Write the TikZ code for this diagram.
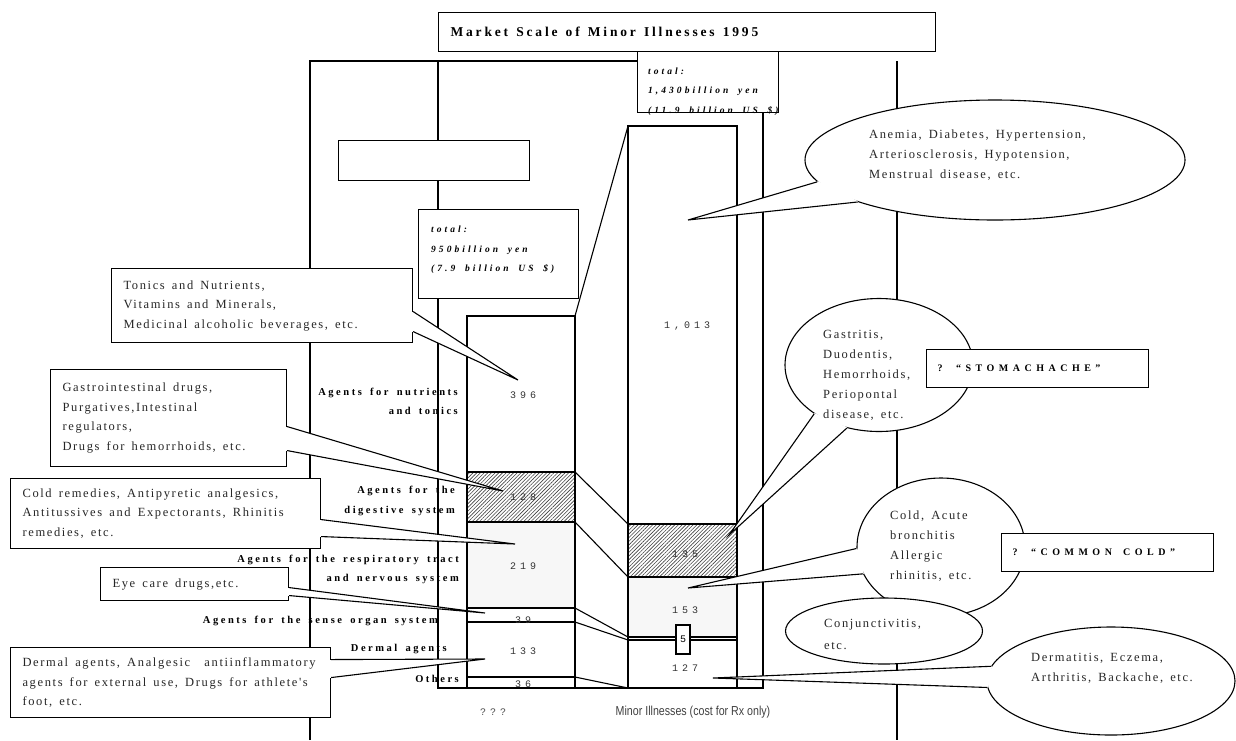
\documentclass[tikz,border=0pt]{standalone}
\usepackage{fontspec}
\setmainfont{Liberation Serif}
\newfontfamily\callfont{Liberation Serif}[LetterSpace=13,WordSpace=1.5]
\newfontfamily\labelfont{Liberation Serif}[LetterSpace=24,WordSpace=1.6]
\newfontfamily\titlefont{Liberation Serif}[LetterSpace=21,WordSpace=1.3]
\newfontfamily\totalfont{Liberation Serif}[LetterSpace=32,WordSpace=1.8]
\newfontfamily\capsfont{Liberation Serif}[LetterSpace=45,WordSpace=1.6]
\newfontfamily\numfont{Liberation Mono}[LetterSpace=40]
\newfontfamily\axisfont{Liberation Sans}[FakeStretch=0.82]
\usepackage{tikz}
\usetikzlibrary{shapes.geometric,patterns.meta,calc}
\tikzstyle{wire} = [draw, line width=1.1pt]
\tikzstyle{frameline} = [draw, line width=1.1pt]
\tikzstyle{plainbox} = [draw, fill=white, line width=1.1pt, rectangle,
  anchor=north west, inner sep=0pt]
\tikzstyle{callbox} = [draw, fill=white, line width=1.1pt, rectangle,
  anchor=north west, align=left, inner xsep=12pt, text=black!85,
  execute at begin node={\spaceskip=0pt\xspaceskip=0pt},
  font={\callfont\fontsize{12.5}{19.5}\selectfont}]
\tikzstyle{titlebox} = [callbox, text=black,
  font={\titlefont\bfseries\fontsize{13.5}{16}\selectfont}]
\tikzstyle{tagbox} = [callbox, inner xsep=11pt, text=black,
  font={\capsfont\bfseries\fontsize{10}{12}\selectfont}]
\tikzstyle{bubble} = [draw, fill=white, ellipse, line width=1.1pt, inner sep=0pt]
\tikzstyle{bubbletext} = [anchor=west, align=left, inner sep=0pt, text=black!85,
  font={\callfont\fontsize{12.5}{20}\selectfont}]
\tikzstyle{agent} = [anchor=east, align=right, inner sep=0pt,
  font={\labelfont\bfseries\fontsize{10.5}{19.5}\selectfont}]
\tikzstyle{total} = [anchor=west, align=left, inner sep=0pt,
  font={\totalfont\bfseries\itshape\fontsize{9.5}{19.5}\selectfont}]
\tikzstyle{value} = [inner sep=0pt, text=black!80,
  font={\numfont\fontsize{10}{12}\selectfont}]
\tikzstyle{axis} = [inner sep=0pt, text=black!75,
  font={\axisfont\fontsize{13}{15}\selectfont}]
\tikzstyle{hatch} = [pattern={Lines[angle=45,distance=2.6pt,line width=0.6pt]},
  pattern color=black!75]
\tikzstyle{soft} = [fill=black!3]
% wedge of a callout: base point, tip, base point
\newcommand{\pointer}[3]{%
  \fill[white] (#1) -- (#2) -- (#3) -- cycle;
  \draw[white, line width=1.8pt] (#1) -- (#3);
  \draw[wire, line join=miter] (#1) -- (#2) -- (#3);}

\begin{document}
\begin{tikzpicture}[x=1pt,y=-1pt]
  \useasboundingbox (0,0) rectangle (1236,740);

  % frame lines
  \draw[frameline] (310,740) -- (310,61) -- (637,61);
  \draw[frameline] (438,61) -- (438,688) -- (763,688) -- (763,112);
  \draw[frameline] (897,61) -- (897,740);

  % left column (950)
  \fill[hatch] (467,472) rectangle (575,522);
  \fill[soft] (467,522) rectangle (575,608);
  \draw[wire] (467,316) rectangle (575,688);
  \foreach \y in {472,522,608,622,677} \draw[wire] (467,\y) -- (575,\y);

  % right column (1430)
  \fill[hatch] (628,524) rectangle (737,577);
  \fill[soft] (628,577) rectangle (737,637);
  \draw[wire] (628,126) rectangle (737,688);
  \foreach \y in {524,577,637,640} \draw[wire] (628,\y) -- (737,\y);

  % links between the columns
  \draw[wire] (575,316) -- (628,126) (575,472) -- (628,524)
    (575,522) -- (628,577) (575,608) -- (628,637)
    (575,622) -- (628,640) (575,677) -- (628,688);

  % values
  \foreach \v/\y in {396/395,128/497,219/566,39/620,133/651,36/684}
    \node[value] (left\v) at (523,\y) {\v};
  \node[value] (r1013) at (687,326) {1,013};
  \node[value] (r135) at (685,554) {135};
  \node[value] (r153) at (685,610) {153};
  \node[value] (r127) at (685,668) {127};
  \node[value, draw, fill=white, line width=1.1pt, minimum width=14pt,
    minimum height=29pt, text=black] (r5) at (683,639.5) {5};

  % boxes at the top
  \node[plainbox, minimum width=191pt, minimum height=40pt] (blank) at (338,140) {};
  \node[plainbox, minimum width=160pt, minimum height=89pt] (sum950box) at (418,209) {};
  \node[total] (sum950) at (431,250) {total:\\950billion yen\\(7.9 billion US \$)};
  \node[plainbox, minimum width=141pt, minimum height=61pt] (sum1430box) at (637,51) {};
  \node[titlebox, text width=473pt, minimum height=39pt] (title) at (438,12)
    {Market Scale of Minor Illnesses 1995};
  \node[total] (sum1430) at (648,91.5) {total:\\1,430billion yen\\(11.9 billion US \$)};

  % callouts on the left
  \coordinate (tipTonics) at (518,380);
  \coordinate (tipGastro) at (503,491);
  \coordinate (tipCold) at (515,544);
  \coordinate (tipEye) at (485,613);
  \coordinate (tipDermal) at (485,659);

  \node[callbox, text width=277pt, minimum height=74pt] (tonics) at (111,268)
    {Tonics and Nutrients,\\Vitamins and Minerals,\\Medicinal alcoholic beverages, etc.};
  \pointer{[yshift=-6pt]tonics.east}{tipTonics}{[yshift=-26pt]tonics.east}

  \node[callbox, text width=212pt, minimum height=97pt] (gastro) at (50,369)
    {Gastrointestinal drugs,\\Purgatives,Intestinal\\regulators,\\Drugs for hemorrhoids, etc.};
  \pointer{[yshift=-8.5pt]gastro.east}{tipGastro}{[yshift=-32.5pt]gastro.east}

  \node[callbox, text width=286pt, minimum height=70pt] (coldrem) at (10,478)
    {Cold remedies, Antipyretic analgesics,\\Antitussives and Expectorants, Rhinitis\\remedies, etc.};
  \pointer{[yshift=-6pt]coldrem.east}{tipCold}{[yshift=-23pt]coldrem.east}

  \node[callbox, text width=164pt, minimum height=33pt] (eye) at (100,567)
    {Eye care drugs,etc.};
  \pointer{[yshift=-3.5pt]eye.east}{tipEye}{[yshift=-11.5pt]eye.east}

  \node[callbox, text width=296pt, minimum height=70pt] (dermal) at (10,647)
    {Dermal agents, Analgesic\ \ antiinflammatory\\agents for external use, Drugs for athlete's\\foot, etc.};
  \pointer{[yshift=23pt]dermal.east}{tipDermal}{[yshift=5pt]dermal.east}

  % callouts on the right
  \coordinate (tipAnemia) at (688,220);
  \coordinate (tipGastritis) at (729,535);
  \coordinate (tipColdIll) at (688,588);
  \coordinate (tipDermat) at (713,678);

  \node[bubble, minimum width=380pt, minimum height=120pt] (anemia) at (995,160) {};
  \pointer{anemia.187}{tipAnemia}{anemia.197}
  \node[bubbletext] (anemiatext) at (869,155.5)
    {Anemia, Diabetes, Hypertension,\\Arteriosclerosis, Hypotension,\\Menstrual disease, etc.};

  \node[bubble, minimum width=188pt, minimum height=133pt] (gastritis) at (879,365) {};
  \pointer{gastritis.217}{tipGastritis}{gastritis.243}
  \node[bubbletext] (gastritistext) at (823,375)
    {Gastritis,\\Duodentis,\\Hemorrhoids,\\Periopontal\\disease, etc.};
  \node[tagbox, text width=200pt, minimum height=38pt] (stomach) at (926,349)
    {? “STOMACHACHE”};

  \node[bubble, minimum width=168pt, minimum height=138pt] (coldill) at (941,547) {};
  \pointer{coldill.181}{tipColdIll}{coldill.199}
  \node[bubbletext] (coldilltext) at (890,546)
    {Cold, Acute\\bronchitis\\Allergic\\rhinitis, etc.};
  \node[tagbox, text width=190pt, minimum height=38pt] (common) at (1001,533)
    {? “COMMON COLD”};

  \node[bubble, minimum width=197pt, minimum height=66pt] (conj) at (884,631) {};
  \node[bubbletext, font={\callfont\fontsize{12.5}{22}\selectfont}] (conjtext) at (824,634)
    {Conjunctivitis,\\etc.};

  \node[bubble, minimum width=248pt, minimum height=108pt] (dermat) at (1111,681) {};
  \pointer{dermat.173}{tipDermat}{dermat.183}
  \node[bubbletext] (dermattext) at (1031,668)
    {Dermatitis, Eczema,\\Arthritis, Backache, etc.};

  % row labels
  \node[agent] (nutr) at (458,401.5) {Agents for nutrients\\and tonics};
  \node[agent] (dige) at (455,501) {Agents for the\\digestive system};
  \node[agent] (resp) at (459,569.5) {Agents for the respiratory tract\\and nervous system};
  \node[agent] (sens) at (438,621) {Agents for the sense organ system};
  \node[agent] (derm) at (447,649) {Dermal agents};
  \node[agent] (othr) at (459,679) {Others};

  % column captions
  \node[value, text=black!70] (capleft) at (493,712) {???};
  \node[axis] (capright) at (693,712) {Minor Illnesses (cost for Rx only)};
\end{tikzpicture}
\end{document}
